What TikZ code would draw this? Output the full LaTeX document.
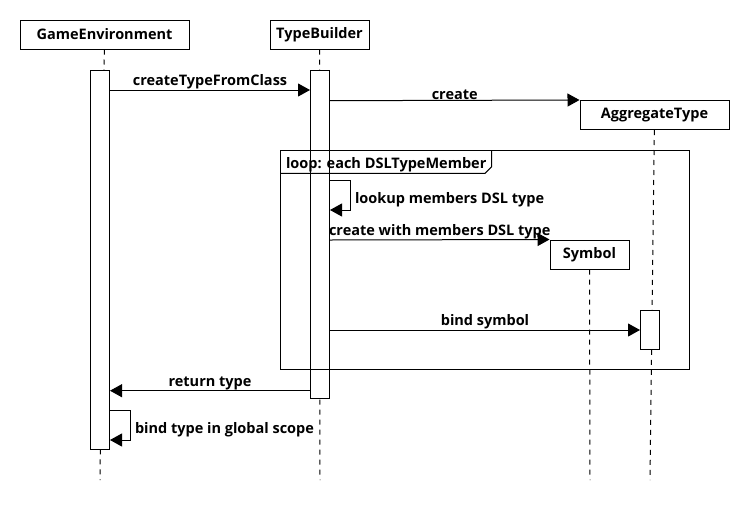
\documentclass[tikz,border=0pt]{standalone}
\usepackage{fontspec}
\setmainfont{Open Sans}
\usetikzlibrary{arrows.meta}
\begin{document}
\begin{tikzpicture}[x=1pt,y=1pt,line width=1pt]
\tikzstyle{every node}+=[inner sep=0pt,font=\bfseries\fontsize{14.5}{16}\selectfont]
\tikzstyle{party}=[draw,fill=white,minimum height=29pt]
\tikzstyle{act}=[draw,fill=white,minimum width=19pt]
\tikzstyle{life}=[dash pattern=on 5pt off 5pt]
\tikzstyle{msg}=[-{Triangle[length=12pt,width=13pt]}]
\useasboundingbox (0,0) rectangle (750,-520);
\node [party,minimum width=169pt] (game) at (104.5,-34.5) {GameEnvironment};
\node [party,minimum width=99pt] (builder) at (319.5,-34.5) {TypeBuilder};
\node [party,minimum width=149pt] (aggr) at (654.5,-115) {AggregateType};
\node [party,minimum width=79pt] (sym) at (589.5,-254.5) {Symbol};
\coordinate (gameend) at (100,-480);
\coordinate (builderend) at (320,-480);
\coordinate (aggrend) at (650,-480);
\coordinate (symend) at (590,-480);
\draw [life] (game) -- (gameend);
\draw [life] (builder) -- (builderend);
\draw [life] (aggr) -- (aggrend);
\draw [life] (sym) -- (symend);
\node [act,minimum height=379pt] (gameact) at (100,-259.5) {};
\node [act,minimum height=328pt] (builderact) at (320,-234) {};
\node [act,minimum height=39pt] (aggract) at (650,-329.5) {};
\draw (280,-150) rectangle (689,-369);
\draw (280,-173.3) -- (485,-173.3) -- (491.7,-166.7) -- (491.7,-150);
\node [anchor=base west] (loop) at (285.5,-168.5) {loop: each DSLTypeMember};
\draw [msg] (gameact.east |- 0,-90) -- (builderact.west |- 0,-90) node [midway,above=0.5pt] {createTypeFromClass};
\draw [msg] (builderact.east |- 0,-100.7) -- (aggr.north west) node [midway,above=0.5pt] {create};
\draw [msg] (builderact.east |- 0,-180) -- ++(20.5,0) -- ++(0,-30) node [midway,right=4pt,yshift=-5pt] {lookup members DSL type} -- (builderact.east |- 0,-210);
\draw [msg] (builderact.east |- 0,-240) -- (sym.north west) node [midway,above=0.5pt] {create with members DSL type};
\draw [msg] (builderact.east |- 0,-330) -- (aggract.west |- 0,-330) node [midway,above=0.5pt] {bind symbol};
\draw [msg] (builderact.west |- 0,-390.7) -- (gameact.east |- 0,-390.7) node [midway,above=0.5pt] {return type};
\draw [msg] (gameact.east |- 0,-410) -- ++(20.5,0) -- ++(0,-30) node [midway,right=4pt,yshift=-5pt] {bind type in global scope} -- (gameact.east |- 0,-440);
\end{tikzpicture}
\end{document}
